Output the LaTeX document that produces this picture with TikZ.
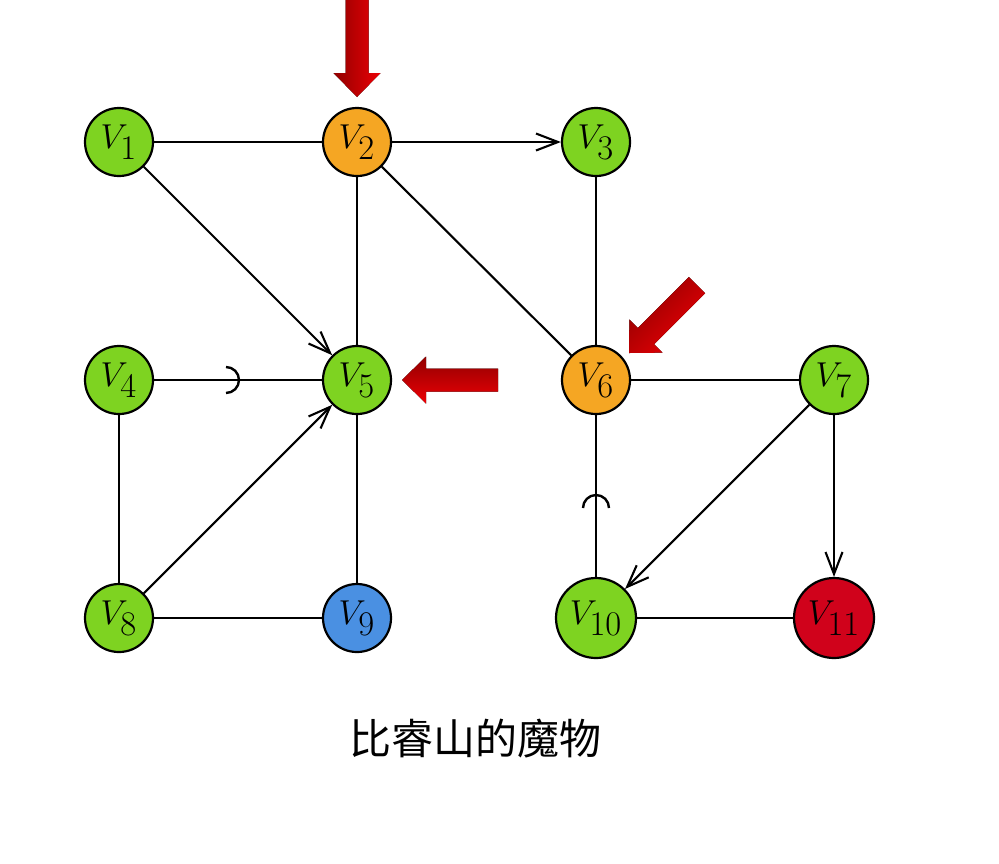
\documentclass[tikz,border=0pt]{standalone}
\usepackage{fontspec}
\newfontfamily\cjk{Noto Sans CJK SC}
\usetikzlibrary{arrows.meta}
\definecolor{vgreen}{HTML}{7ED321}
\definecolor{vorange}{HTML}{F5A623}
\definecolor{vblue}{HTML}{4A90E2}
\definecolor{vred}{HTML}{D0021B}
\definecolor{adark}{RGB}{145,0,0}
\definecolor{abright}{RGB}{236,0,5}
\begin{document}
\begin{tikzpicture}[x=0.5pt,y=-0.5pt,
  vtx/.style={circle,draw=black,line width=1.1pt,minimum size=34pt,inner sep=0pt,
    font=\fontsize{17.28}{20}\selectfont},
  bigvtx/.style={vtx,minimum size=40pt},
  edge/.style={line width=1.05pt},
  arr/.style={edge,-{Straight Barb[length=11pt,width=8.5pt]}},
  marker/.style={line width=1.2pt}]
\useasboundingbox (0,0) rectangle (999,863);

% vertices
\node[vtx,fill=vgreen]  (v1)  at (119,142) {$V_{\textstyle 1}$};
\node[vtx,fill=vorange] (v2)  at (357,142) {$V_{\textstyle 2}$};
\node[vtx,fill=vgreen]  (v3)  at (596,142) {$V_{\textstyle 3}$};
\node[vtx,fill=vgreen]  (v4)  at (119,380) {$V_{\textstyle 4}$};
\node[vtx,fill=vgreen]  (v5)  at (357,380) {$V_{\textstyle 5}$};
\node[vtx,fill=vorange] (v6)  at (596,380) {$V_{\textstyle 6}$};
\node[vtx,fill=vgreen]  (v7)  at (834,380) {$V_{\textstyle 7}$};
\node[vtx,fill=vgreen]  (v8)  at (119,618) {$V_{\textstyle 8}$};
\node[vtx,fill=vblue]   (v9)  at (357,618) {$V_{\textstyle 9}$};
\node[bigvtx,fill=vgreen] (v10) at (596,618) {$V_{\textstyle 10}$};
\node[bigvtx,fill=vred]   (v11) at (834,618) {$V_{\textstyle 11}$};

% edges
\draw[edge] (v1) -- (v2);
\draw[arr]  (v2) -- (v3);
\draw[arr]  (v1) -- (v5);
\draw[edge] (v2) -- (v5);
\draw[edge] (v2) -- (v6);
\draw[edge] (v3) -- (v6);
\draw[edge] (v4) -- (v5);
\draw[edge] (v4) -- (v8);
\draw[arr]  (v8) -- (v5);
\draw[edge] (v8) -- (v9);
\draw[edge] (v5) -- (v9);
\draw[edge] (v6) -- (v7);
\draw[edge] (v6) -- (v10);
\draw[arr]  (v7) -- (v10);
\draw[arr]  (v7) -- (v11);
\draw[edge] (v10) -- (v11);

% semicircle markers
\draw[marker] (226,367) arc[start angle=-90,end angle=90,radius=13];
\draw[marker] (583,508) arc[start angle=180,end angle=360,radius=13];

% big red arrows
\fill[left color=adark,right color=abright]
  (345.5,0) -- (368.5,0) -- (368.5,73) -- (380.5,73) -- (357,97)
  -- (333.5,73) -- (345.5,73) -- cycle;
\fill[top color=adark,bottom color=abright]
  (498,368.5) -- (426,368.5) -- (426,356.5) -- (402,380)
  -- (426,403.5) -- (426,391.5) -- (498,391.5) -- cycle;
\fill[top color=adark,bottom color=abright,shading angle=45]
  (688.77,276.97) -- (637.84,327.90) -- (629.35,319.41) -- (629,353)
  -- (662.59,352.65) -- (654.10,344.16) -- (705.03,293.23) -- cycle;

% caption
\node[font=\cjk\fontsize{21}{25}\selectfont,anchor=base,inner sep=0pt] (title) at (475,754) {比睿山的魔物};
\end{tikzpicture}
\end{document}
